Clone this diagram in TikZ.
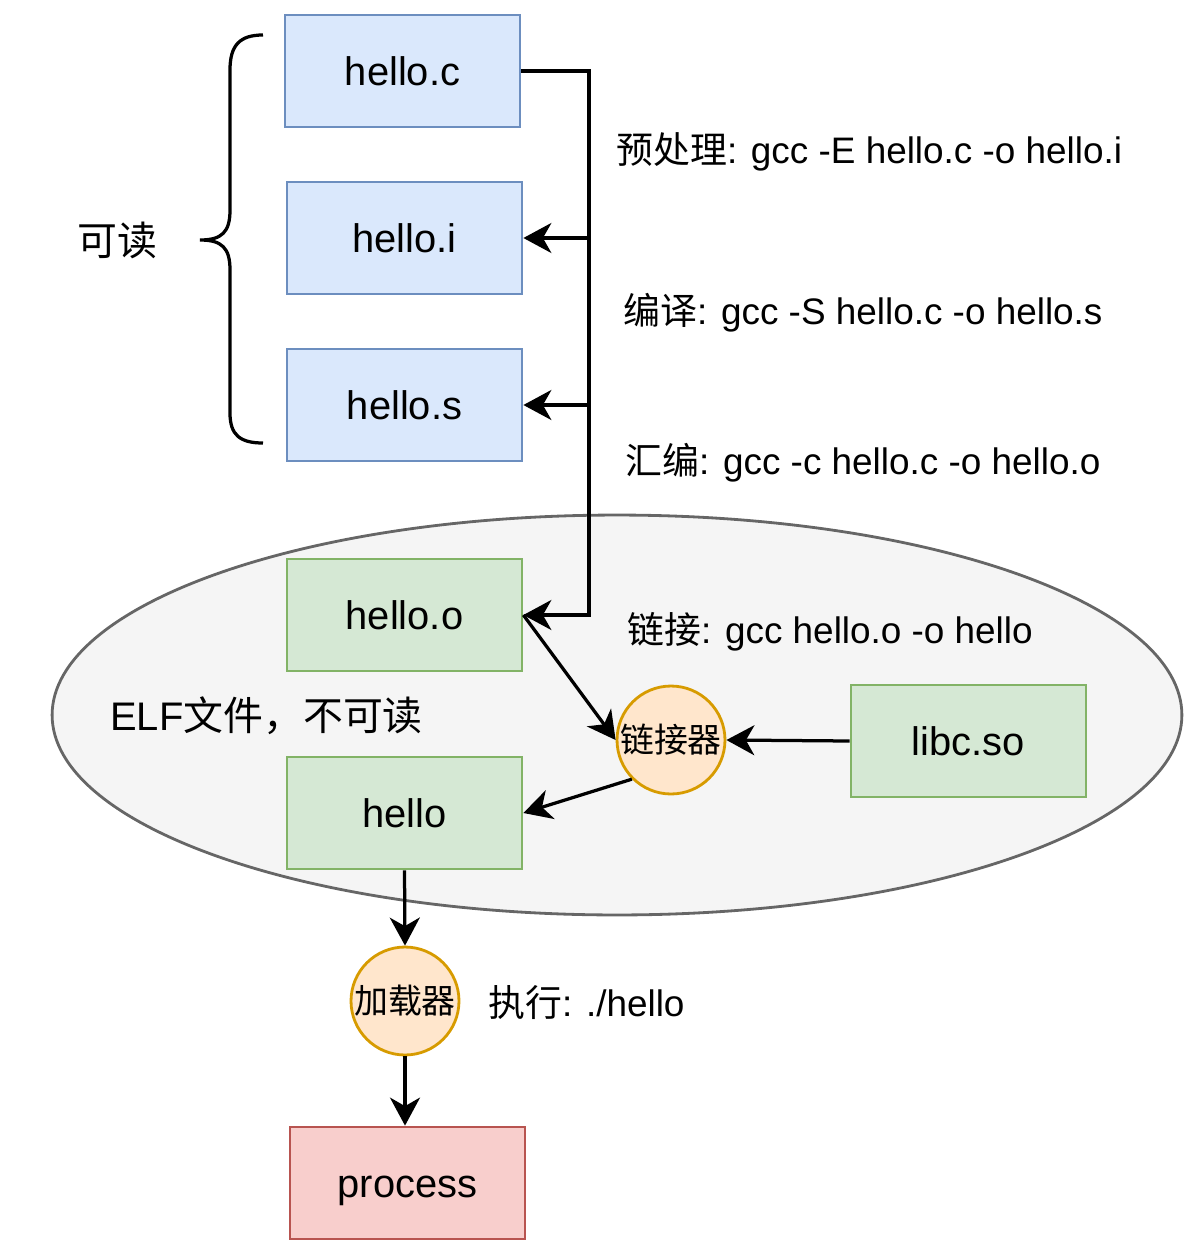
\documentclass[tikz,border=0pt]{standalone}
\usepackage{fontspec}
\setmainfont{Liberation Sans}
\newfontfamily\cjk{Noto Sans CJK SC}
\usetikzlibrary{arrows.meta}
\begin{document}
\begin{tikzpicture}[x=0.02cm,y=-0.02cm,font=\fontsize{22.7}{27}\selectfont,
  filebox/.style={draw,line width=1.6pt,minimum width=4.7cm,minimum height=2.24cm,inner sep=0pt,text height=16.3pt,text depth=0pt},
  toolnode/.style={circle,draw=toolline,fill=toolfill,line width=1.6pt,minimum size=2.16cm,inner sep=0pt,font=\fontsize{19.3}{22}\selectfont\cjk},
  cmd/.style={anchor=west,inner sep=0pt,font=\fontsize{21}{25}\selectfont},
  arr/.style={line width=1.85pt,-{Stealth[length=0.56cm,width=0.6cm,inset=0.17cm]}}]
  \definecolor{srcfill}{HTML}{DAE8FC}
  \definecolor{srcline}{HTML}{6C8EBF}
  \definecolor{elffill}{HTML}{D5E8D4}
  \definecolor{elfline}{HTML}{82B366}
  \definecolor{toolfill}{HTML}{FFE6CC}
  \definecolor{toolline}{HTML}{D79B00}
  \definecolor{procfill}{HTML}{F8CECC}
  \definecolor{procline}{HTML}{B85450}
  \definecolor{elfarea}{HTML}{F5F5F5}
  \definecolor{elfborder}{HTML}{666666}
  \useasboundingbox (0,0) rectangle (1200,1254);
  % ELF area
  \draw[fill=elfarea,draw=elfborder,line width=1.6pt] (617,715) ellipse [x radius=11.3cm,y radius=4cm];
  \node[anchor=west,inner sep=0pt] (elf) at (110,716) {ELF{\cjk 文件，不可读}};
  % readable files
  \node[filebox,fill=srcfill,draw=srcline] (hc) at (402.5,71) {hello.c};
  \node[filebox,fill=srcfill,draw=srcline] (hi) at (404.5,238) {hello.i};
  \node[filebox,fill=srcfill,draw=srcline] (hs) at (404.5,405) {hello.s};
  \draw[line width=1.85pt] (263,35) .. controls (240,35) and (230,45) .. (230,70) -- (230,210)
    .. controls (230,232) and (222,240) .. (200,240)
    .. controls (222,240) and (230,248) .. (230,270) -- (230,413)
    .. controls (230,435) and (240,443) .. (263,443);
  \node[inner sep=0pt] (readable) at (117,240) {\cjk 可读};
  % binary files
  \node[filebox,fill=elffill,draw=elfline] (ho) at (404.5,615) {hello.o};
  \node[filebox,fill=elffill,draw=elfline] (hl) at (404.5,813) {hello};
  \node[filebox,fill=elffill,draw=elfline] (lib) at (968.5,741) {libc.so};
  \node[toolnode] (lk) at (671,740) {链接器};
  \node[toolnode] (ld) at (405,1001) {加载器};
  \node[filebox,fill=procfill,draw=procline] (pr) at (407.5,1183) {process};
  % commands
  \node[cmd] (pre) at (616,152) {{\cjk 预处理}: gcc -E hello.c -o hello.i};
  \node[cmd] (cc) at (623,313) {{\cjk 编译}: gcc -S hello.c -o hello.s};
  \node[cmd] (as) at (625,463) {{\cjk 汇编}: gcc -c hello.c -o hello.o};
  \node[cmd] (lnk) at (627,632) {{\cjk 链接}: gcc hello.o -o hello};
  \node[cmd] (run) at (488,1003) {{\cjk 执行}: ./hello};
  % connectors
  \coordinate (bus) at (589,0);
  \draw[arr] (hc.east) -- (hc.east -| bus) |- (ho.east);
  \draw[arr] (hi.east -| bus) -- (hi.east);
  \draw[arr] (hs.east -| bus) -- (hs.east);
  \draw[arr] (ho.east) -- (lk.west);
  \draw[arr] (lib.west) -- (lk.east);
  \draw[arr] (lk.225) -- (hl.east);
  \draw[arr] (hl.south) -- (ld.north);
  \draw[arr] (ld.south) -- (ld.south |- pr.north);
\end{tikzpicture}
\end{document}
